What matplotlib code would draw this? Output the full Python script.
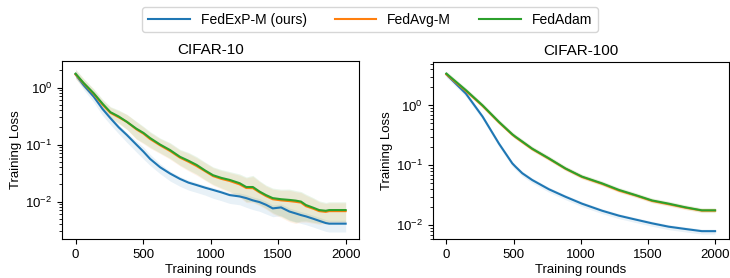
import matplotlib.pyplot as plt
import numpy as np

plt.rcParams['font.family'] = ['Liberation Sans', 'DejaVu Sans']
plt.rcParams['mathtext.fontset'] = 'custom'
plt.rcParams['mathtext.rm'] = 'Liberation Sans'
plt.rcParams['mathtext.it'] = 'Liberation Sans:italic'
plt.rcParams['font.size'] = 9

methods = ['FedExP-M (ours)', 'FedAvg-M', 'FedAdam']
colors = ['#1f77b4', '#ff7f0e', '#2ca02c']

# CIFAR-10 curves
c10_rounds = [0, 60, 135, 200, 258, 320, 380, 450, 503, 552, 626, 700, 773, 836, 896,
              960, 1018, 1080, 1141, 1215, 1264, 1313, 1362, 1410, 1460, 1522, 1583,
              1630, 1669, 1706, 1760, 1804, 1853, 1878, 2000]
c10_fedexp = [1.7, 1.1, 0.69, 0.42, 0.29, 0.2, 0.147, 0.1, 0.075, 0.056, 0.04, 0.031,
              0.025, 0.0215, 0.0195, 0.0175, 0.016, 0.0145, 0.013, 0.0123, 0.0115,
              0.0105, 0.0098, 0.0088, 0.0076, 0.0079, 0.0067, 0.0062, 0.0058, 0.0055,
              0.005, 0.0046, 0.0042, 0.0041, 0.0041]
c10_fedavgm = [1.7, 1.18, 0.77, 0.5, 0.36, 0.3, 0.25, 0.185, 0.155, 0.125, 0.097, 0.077,
               0.059, 0.05, 0.042, 0.034, 0.028, 0.025, 0.023, 0.02, 0.0173, 0.0172,
               0.0145, 0.0125, 0.011, 0.0105, 0.0102, 0.0099, 0.0096, 0.0083, 0.0075,
               0.0068, 0.0066, 0.0068, 0.0068]
c10_fedadam = [1.75, 1.2, 0.79, 0.52, 0.37, 0.31, 0.25, 0.19, 0.16, 0.13, 0.1, 0.08,
               0.061, 0.052, 0.044, 0.035, 0.029, 0.026, 0.024, 0.021, 0.018, 0.018,
               0.015, 0.013, 0.0115, 0.011, 0.0107, 0.0104, 0.01, 0.0087, 0.0078,
               0.0071, 0.0069, 0.0071, 0.0071]
# spread of the shaded bands (factor below / above the mean)
c10_exp_lo = [1.15, 1.2, 1.25, 1.3, 1.3, 1.3, 1.35, 1.35, 1.35, 1.3, 1.3, 1.35, 1.35,
              1.35, 1.35, 1.35, 1.4, 1.4, 1.4, 1.4, 1.45, 1.45, 1.45, 1.45, 1.4, 1.4,
              1.4, 1.4, 1.4, 1.4, 1.4, 1.4, 1.4, 1.4, 1.4]
c10_exp_hi = [1.15, 1.1, 1.1, 1.1, 1.1, 1.1, 1.1, 1.15, 1.2, 1.2, 1.15, 1.1, 1.1, 1.1,
              1.1, 1.1, 1.1, 1.1, 1.1, 1.15, 1.15, 1.15, 1.15, 1.15, 1.15, 1.15, 1.15,
              1.15, 1.15, 1.15, 1.15, 1.15, 1.15, 1.15, 1.15]
c10_adam_lo = [1.2, 1.2, 1.2, 1.2, 1.25, 1.3, 1.35, 1.5, 1.5, 1.45, 1.4, 1.4, 1.4, 1.45,
               1.45, 1.45, 1.45, 1.5, 1.6, 1.7, 1.8, 1.8, 1.7, 1.7, 1.8, 2.0, 2.3, 2.4,
               2.2, 1.9, 1.8, 1.7, 1.6, 1.6, 1.6]
c10_adam_hi = [1.2, 1.2, 1.2, 1.2, 1.25, 1.3, 1.35, 1.35, 1.3, 1.3, 1.3, 1.35, 1.35,
               1.4, 1.4, 1.4, 1.4, 1.4, 1.4, 1.45, 1.5, 1.6, 1.55, 1.5, 1.5, 1.5, 1.55,
               1.5, 1.5, 1.55, 1.5, 1.45, 1.4, 1.4, 1.4]

# CIFAR-100 curves
c100_rounds = [0, 145, 270, 392, 491, 515, 565, 639, 763, 886, 1009, 1160, 1284, 1407,
               1531, 1654, 1778, 1901, 2000]
c100_fedexp = [3.3, 1.58, 0.65, 0.23, 0.108, 0.095, 0.074, 0.057, 0.04, 0.03, 0.023,
               0.0175, 0.0145, 0.0125, 0.0108, 0.0095, 0.0087, 0.008, 0.008]
c100_fedavgm = [3.3, 1.75, 0.98, 0.52, 0.325, 0.295, 0.245, 0.187, 0.129, 0.088, 0.064,
                0.049, 0.038, 0.0315, 0.0255, 0.0225, 0.0197, 0.0176, 0.0176]
c100_fedadam = [3.4, 1.8, 1.0, 0.53, 0.33, 0.3, 0.25, 0.19, 0.131, 0.089, 0.065, 0.05,
                0.039, 0.032, 0.026, 0.023, 0.02, 0.0178, 0.0178]
c100_band = [(1.12, 1.08), (1.08, 1.1), (1.08, 1.1)]

fig = plt.figure(figsize=(7.3, 2.78), dpi=100)
ax1 = fig.add_axes([0.085, 0.140, 0.407, 0.640])
ax2 = fig.add_axes([0.593, 0.140, 0.405, 0.637])


def draw(ax, x, series, bands, title, ylim):
    x = np.asarray(x)
    lines = []
    for y, c, (lo, hi), name in zip(series, colors, bands, methods):
        y = np.asarray(y)
        ax.fill_between(x, y / np.asarray(lo), y * np.asarray(hi),
                        color=c, alpha=0.1, linewidth=0)
        ln, = ax.plot(x, y, color=c, linewidth=1.5, label=name)
        lines.append(ln)
    ax.set_yscale('log')
    ax.set_ylim(*ylim)
    ax.set_xlim(-100, 2100)
    ax.set_xticks([0, 500, 1000, 1500, 2000])
    ax.set_title(title, fontsize=11, pad=5)
    ax.set_xlabel('Training rounds', fontsize=9.5, labelpad=2)
    ax.set_ylabel('Training Loss', fontsize=9.5, labelpad=2)
    ax.tick_params(labelsize=9.5)
    return lines


c10_bands = [(c10_exp_lo, c10_exp_hi), (c10_adam_lo, c10_adam_hi),
             (c10_adam_lo, c10_adam_hi)]
lines = draw(ax1, c10_rounds, [c10_fedexp, c10_fedavgm, c10_fedadam], c10_bands,
             'CIFAR-10', (0.0022, 2.9))
draw(ax2, c100_rounds, [c100_fedexp, c100_fedavgm, c100_fedadam], c100_band,
     'CIFAR-100', (0.0059, 5.3))

fig.legend(handles=lines, loc='upper center', bbox_to_anchor=(0.507, 1.0), ncol=3,
           fontsize=10, columnspacing=2.0, handlelength=3.0, frameon=True)

fig.savefig('out.png', dpi=100)
